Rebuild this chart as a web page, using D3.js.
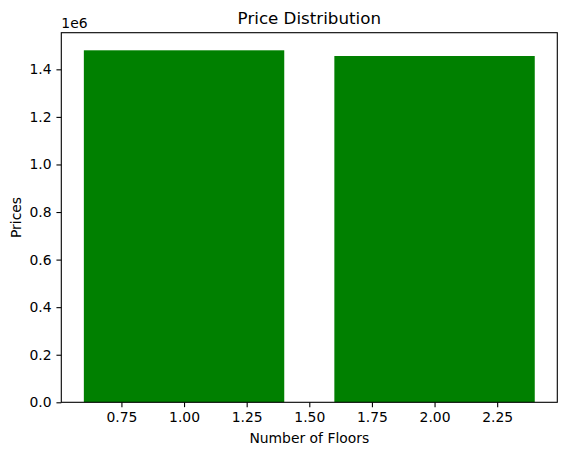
<!DOCTYPE html>
<html><head><meta charset="utf-8">
<script src="https://cdn.jsdelivr.net/npm/d3@7"></script>
<style>body{margin:0;background:#fff}svg{display:block}text{font-family:"DejaVu Sans",sans-serif;fill:#000}</style>
</head><body>
<script>
const floors = [1, 2];
const prices = [1480000, 1456000];
const xTicks = [0.75, 1.00, 1.25, 1.50, 1.75, 2.00, 2.25];
const yTicks = [0, 200000, 400000, 600000, 800000, 1000000, 1200000, 1400000];
const barWidth = 0.8;

const W = 567, H = 455;
const m = {left: 61.3, right: 9.7, top: 32.7, bottom: 52.7};
const iw = W - m.left - m.right, ih = H - m.top - m.bottom;

const svg = d3.select("body").append("svg").attr("width", W).attr("height", H);
const g = svg.append("g").attr("transform", `translate(${m.left},${m.top})`);

const lo = d3.min(floors) - barWidth/2, hi = d3.max(floors) + barWidth/2;
const pad = (hi - lo) * 0.05;
const x = d3.scaleLinear().domain([lo - pad, hi + pad]).range([0, iw]);
const y = d3.scaleLinear().domain([0, d3.max(prices) * 1.05]).range([ih, 0]);

g.selectAll("rect.bar").data(floors).join("rect").attr("class","bar")
  .attr("x", d => x(d - barWidth/2))
  .attr("width", d => x(d + barWidth/2) - x(d - barWidth/2))
  .attr("y", (d,i) => y(prices[i]))
  .attr("height", (d,i) => y(0) - y(prices[i]))
  .attr("fill", "green");

const fs = 13.9;
const xAxis = g.append("g").attr("transform", `translate(0,${ih})`)
  .call(d3.axisBottom(x).tickValues(xTicks).tickFormat(d3.format(".2f")).tickSize(4.86).tickPadding(4.86));
const yAxis = g.append("g")
  .call(d3.axisLeft(y).tickValues(yTicks).tickFormat(d => (d/1e6).toFixed(1)).tickSize(4.86).tickPadding(4.86));
[xAxis, yAxis].forEach(a => {
  a.select(".domain").remove();
  a.selectAll("text").attr("font-size", fs).attr("font-family", "DejaVu Sans").attr("fill", "#000");
  a.selectAll("line").attr("stroke", "#000").attr("stroke-width", 1.1);
});

g.append("rect").attr("x",0).attr("y",0).attr("width",iw).attr("height",ih)
  .attr("fill","none").attr("stroke","#000").attr("stroke-width",1.1);

svg.append("text").attr("x", m.left + iw/2).attr("y", 24.4).attr("text-anchor","middle")
  .attr("font-size", 16.7).text("Price Distribution");
svg.append("text").attr("x", m.left).attr("y", 27.7).attr("font-size", fs).text("1e6");
svg.append("text").attr("x", m.left + iw/2).attr("y", 442.5).attr("text-anchor","middle")
  .attr("font-size", fs).text("Number of Floors");
svg.append("text").attr("transform", `translate(21,${m.top + ih/2}) rotate(-90)`)
  .attr("text-anchor","middle").attr("font-size", fs).text("Prices");
</script>
</body></html>
